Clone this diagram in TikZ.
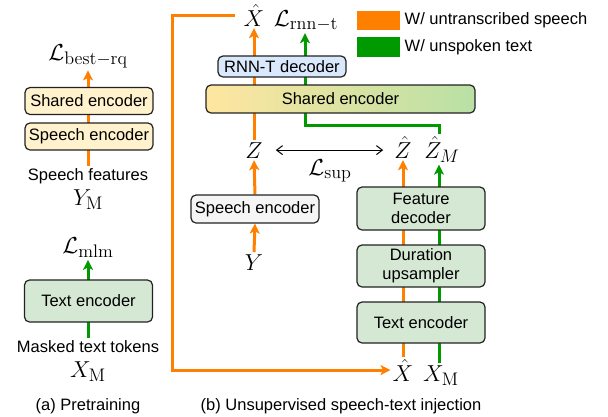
\RequirePackage{fix-cm}
\documentclass[tikz,border=0pt]{standalone}
\usepackage[no-math]{fontspec}
\setmainfont{Liberation Sans}
\usepackage{amsmath}
\usepackage{graphicx}
\usetikzlibrary{arrows.meta, positioning, backgrounds}
\definecolor{draworange}{HTML}{FF8000}
\definecolor{drawgreen}{HTML}{009900}
\definecolor{boxgreen}{HTML}{D5E8D4}
\definecolor{boxyellow}{HTML}{FFF2CC}
\definecolor{boxblue}{HTML}{DAE8FC}
\definecolor{boxgrey}{HTML}{F5F5F5}
\definecolor{sharedleft}{HTML}{FFE6A0}
\definecolor{sharedright}{HTML}{B9E0A5}
\definecolor{boxedge}{HTML}{222222}
\DeclareMathSizes{21}{21}{16.5}{12}
\newcommand{\mlbl}[1]{\scalebox{1.1}{$#1$}}

\begin{document}
\begin{tikzpicture}[x=1pt, y=-1pt, font=\fontsize{16.5}{19}\selectfont,
        encbox/.style={draw=boxedge, line width=1.2pt, rounded corners=5pt, minimum width=128pt, inner sep=1pt, align=center},
        lbl/.style={anchor=base, inner sep=2pt},
        mathlbl/.style={anchor=base, inner sep=2pt, font=\fontsize{21}{25}\selectfont},
        legendbox/.style={minimum width=43pt, minimum height=19.5pt, inner sep=0pt},
        speechline/.style={line width=3pt, color=draworange},
        textline/.style={line width=3pt, color=drawgreen},
        headed/.style={-{Stealth[length=10pt, width=10pt, inset=2.5pt]}}]
        \useasboundingbox (0,0) rectangle (608,416);

        % (a) pretraining
        \node (aLbest) [mathlbl] at (88,60) {\mlbl{\mathcal{L}_{\mathrm{best-rq}}}};
        \node (aShared) [encbox, fill=boxyellow, minimum height=27pt] at (89,101) {Shared encoder};
        \node (aSpeech) [encbox, fill=boxyellow, minimum height=27pt] at (89,136.5) {Speech encoder};
        \node (aFeat) [lbl] at (88,180) {Speech features};
        \node (aYM) [mathlbl] at (88,205) {\mlbl{Y_{\mathrm{M}}}};

        \node (aLmlm) [mathlbl] at (88,253) {\mlbl{\mathcal{L}_{\mathrm{mlm}}}};
        \node (aText) [encbox, fill=boxgreen, minimum height=42pt] at (88.5,301) {Text encoder};
        \node (aMasked) [lbl] at (88,352) {Masked text tokens};
        \node (aXM) [mathlbl] at (88,377) {\mlbl{X_{\mathrm{M}}}};
        \node (aCap) [lbl] at (88,410) {(a) Pretraining};

        % (b) injection
        \node (bXtop) [mathlbl] at (254,26) {\mlbl{\hat{X}}};
        \node (bLrnnt) [mathlbl] at (306,26) {\mlbl{\mathcal{L}_{\mathrm{rnn-t}}}};
        \node (bDec) [encbox, fill=boxblue, minimum height=21pt] at (282,66.5) {RNN-T decoder};
        \node (bShared) [encbox, minimum width=269pt, minimum height=28pt, left color=sharedleft, right color=sharedright] at (340.5,99) {Shared encoder};
        \node (bZ) [mathlbl] at (254,158) {\mlbl{Z}};
        \node (bSpeech) [encbox, fill=boxgrey, minimum height=28pt] at (255,209) {Speech encoder};
        \node (bY) [mathlbl] at (254,270) {\mlbl{Y}};
        \node (bZhat) [mathlbl] at (403,158) {\mlbl{\hat{Z}}};
        \node (bZhatM) [mathlbl] at (442,158) {\mlbl{\hat{Z}_M}};
        \node (bLsup) [mathlbl] at (330,175) {\mlbl{\mathcal{L}_{\mathrm{sup}}}};
        \node (bFeat) [encbox, fill=boxgreen, minimum height=43pt] at (421,208.5) {Feature\\decoder};
        \node (bDur) [encbox, fill=boxgreen, minimum height=42pt] at (421,266) {Duration\\upsampler};
        \node (bText) [encbox, fill=boxgreen, minimum height=41pt] at (421,322.5) {Text encoder};
        \node (bXbot) [mathlbl] at (403,381) {\mlbl{\hat{X}}};
        \node (bXM) [mathlbl] at (441,381) {\mlbl{X_{\mathrm{M}}}};
        \node (bCap) [lbl] at (341,410) {(b) Unsupervised speech-text injection};

        % legend
        \node (legSpeech) [legendbox, fill=draworange] at (378.5,20.5) {};
        \node (legSpeechTxt) [right=1pt of legSpeech] {W/ untranscribed speech};
        \node (legText) [legendbox, fill=drawgreen] at (378.5,47) {};
        \node (legTextTxt) [right=1pt of legText] {W/ unspoken text};

        \draw [{Straight Barb[length=6pt, width=9pt]}-{Straight Barb[length=6pt, width=9pt]}, line width=1pt, shorten <=11pt, shorten >=9pt] (bZ.east) -- (bZ.east -| bZhat.west);

        \begin{scope}[on background layer]
            \draw [speechline, headed] (aFeat.north) -- (aLbest.south);
            \draw [textline, headed] (aMasked.north) -- (aLmlm.south);

            \draw [speechline, headed] (bY.north) -- (bSpeech.south);
            \draw [speechline, headed] (bSpeech.north) -- (bZ.south);
            \draw [speechline, headed] (bZ.north) -- (bXtop.south);
            \draw [speechline, headed] (bXbot.north) -- (bZhat.south);
            \draw [textline, headed] (bXM.north -| 439,0) -- (bZhatM.south -| 439,0);
            \coordinate (bTurn) at (305,125);
            \draw [textline, headed] (bZhatM.north -| 439,0) |- (bTurn) -- (bTurn |- bLrnnt.south);
            \draw [speechline, headed] ([xshift=-7pt]bXtop.west) -- ++(-62,0) |- (bXbot.west);
        \end{scope}
\end{tikzpicture}
\end{document}
